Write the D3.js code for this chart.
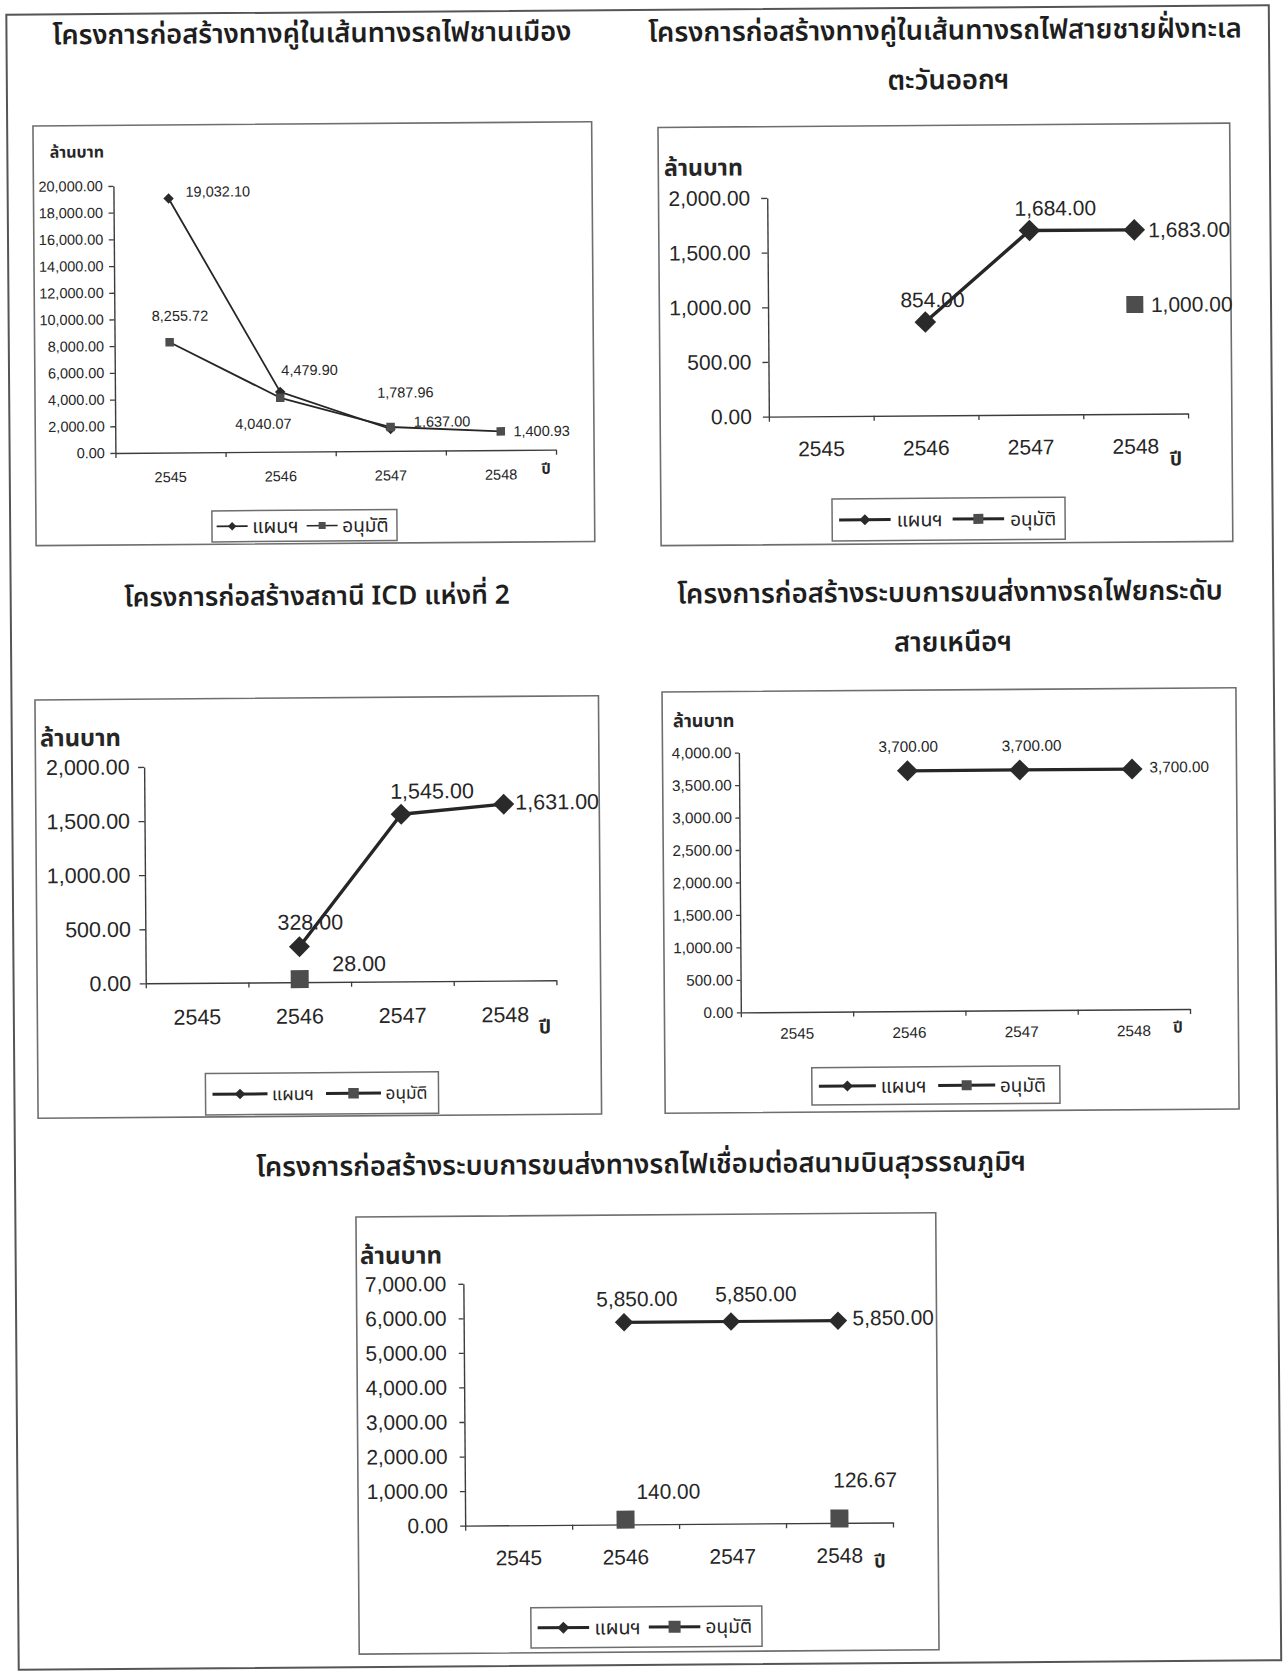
<!DOCTYPE html>
<html>
<head>
<meta charset="utf-8">
<script src="https://cdn.jsdelivr.net/npm/d3@7"></script>
<style>
  html, body { margin: 0; padding: 0; background: #fff; }
  svg { display: block; }
</style>
</head>
<body>
<svg id="page" width="1284" height="1672"></svg>
<script>
// ---- data -------------------------------------------------------------
const years = ["2545", "2546", "2547", "2548"];
const seriesNames = ["แผนฯ", "อนุมัติ"];
const unitLabel = "ล้านบาท";
const yearLabel = "ปี";

const titles = [
  ["โครงการก่อสร้างทางคู่ในเส้นทางรถไฟชานเมือง"],
  ["โครงการก่อสร้างทางคู่ในเส้นทางรถไฟสายชายฝั่งทะเล", "ตะวันออกฯ"],
  ["โครงการก่อสร้างสถานี ICD แห่งที่ 2"],
  ["โครงการก่อสร้างระบบการขนส่งทางรถไฟยกระดับ", "สายเหนือฯ"],
  ["โครงการก่อสร้างระบบการขนส่งทางรถไฟเชื่อมต่อสนามบินสุวรรณภูมิฯ"]
];

// million baht by year, null where no figure exists
const suburbanPlan      = [19032.10, 4479.90, 1637.00, null];
const suburbanApproved  = [8255.72, 4040.07, 1787.96, 1400.93];
const eastCoastPlan     = [null, 854.00, 1684.00, 1683.00];
const eastCoastApproved = [null, null, null, 1000.00];
const icdPlan           = [null, 328.00, 1545.00, 1631.00];
const icdApproved       = [null, 28.00, null, null];
const northPlan         = [null, 3700.00, 3700.00, 3700.00];
const northApproved     = [null, null, null, null];
const airportPlan       = [null, 5850.00, 5850.00, 5850.00];
const airportApproved   = [null, 140.00, null, 126.67];

const yMaxes = [20000, 2000, 2000, 4000, 7000];
const ySteps = [2000, 500, 500, 500, 1000];

const charts = [
  { title: titles[0], plan: suburbanPlan,  approved: suburbanApproved,  yMax: yMaxes[0], step: ySteps[0] },
  { title: titles[1], plan: eastCoastPlan, approved: eastCoastApproved, yMax: yMaxes[1], step: ySteps[1] },
  { title: titles[2], plan: icdPlan,       approved: icdApproved,       yMax: yMaxes[2], step: ySteps[2] },
  { title: titles[3], plan: northPlan,     approved: northApproved,     yMax: yMaxes[3], step: ySteps[3] },
  { title: titles[4], plan: airportPlan,   approved: airportApproved,   yMax: yMaxes[4], step: ySteps[4] }
];

// ---- layout -----------------------------------------------------------
// box: page position/size; plot: axis extents inside the box;
// labels: [dx, dy, anchor] of each value label relative to its marker
const layouts = [
  { box: [38.3, 121.4, 558.7, 419.7], plot: { l: 80, r: 520.6, t: 60.6, b: 327.6 },
    title: { x: [318], y: [31.5], w: 519 },
    unit: { x: 16.5, y: 27, w: 54.3 }, font: 14.5, tickSize: 5, tickPad: 5.5, xLabelDy: 24.5,
    year: { dx: -10, dy: 20, size: 14.5 },
    line: 1.8, diamond: 5.2, square: 8.5,
    legend: { x: 176, y: 386.3, w: 185, h: 31, L: 31, textW: 46.5, lw: 1.6, d: 4.2, s: 7, pad: 4.7, gap: 4.5, itemGap: 8 },
    labels: [
      [[17, -6.5, "start"], [29.5, -21.6, "middle"], [51.5, -7, "middle"], null],
      [[10.5, -26.4, "middle"], [-17, 26, "middle"], [15, -34.4, "middle"], [12.6, 0, "start"]]
    ] },
  { box: [663.3, 127.6, 571.7, 418.2], plot: { l: 108.7, r: 527.9, t: 71.3, b: 290 },
    title: { x: [951, 954], y: [33.3, 83], w: 594 },
    unit: { x: 5.7, y: 41, w: 79 }, font: 21, tickSize: 6, tickPad: 11, xLabelDy: 32.4,
    year: { dx: -12.4, dy: 46.4, size: 19 },
    line: 3.4, diamond: 10.8, square: 17,
    legend: { x: 171.2, y: 372.8, w: 233, h: 42, L: 51.5, textW: 46, lw: 3, d: 5.5, s: 10, pad: 7, gap: 6, itemGap: 10 },
    labels: [
      [null, [7.3, -22.4, "middle"], [26, -22.4, "middle"], [14, 0, "start"]],
      [null, null, null, [16, 0, "start"]]
    ] },
  { box: [36, 695.4, 563.5, 418.3], plot: { l: 108.65, r: 519.3, t: 67.8, b: 284.2 },
    title: { x: [318.8], y: [594.6], w: 386 },
    unit: { x: 4.7, y: 39.5, w: 81 }, font: 21.5, tickSize: 6, tickPad: 8.5, xLabelDy: 34,
    year: { dx: -11.8, dy: 47.6, size: 19 },
    line: 3.4, diamond: 10.5, square: 18,
    legend: { x: 167.6, y: 374.9, w: 233, h: 41.4, L: 55, textW: 42, lw: 3, d: 5.3, s: 10.5, pad: 7, gap: 4.5, itemGap: 12 },
    labels: [
      [null, [11, -24, "middle"], [31, -22.6, "middle"], [11.6, -1.5, "start"]],
      [null, [59.5, -14.7, "middle"], null, null]
    ] },
  { box: [663.1, 692.2, 573.9, 421.2], plot: { l: 76.4, r: 525.6, t: 61.1, b: 320.9 },
    title: { x: [951.8, 954.4], y: [595.3, 645], w: 546 },
    unit: { x: 10.8, y: 29.8, w: 61.5 }, font: 15.3, tickSize: 4, tickPad: 3.5, xLabelDy: 21.4,
    year: { dx: -12.1, dy: 19, size: 15 },
    line: 3.3, diamond: 10.5, square: 17,
    legend: { x: 146.9, y: 376.7, w: 248, h: 37.4, L: 57, textW: 46, lw: 3, d: 5.5, s: 10, pad: 7, gap: 4.8, itemGap: 11.5 },
    labels: [
      [null, [1, -24.4, "middle"], [12, -24.4, "middle"], [17.5, -2, "start"]],
      [null, null, null, null]
    ] },
  { box: [353.1, 1214.9, 579.8, 437.1], plot: { l: 106.9, r: 534.7, t: 67.5, b: 309.4 },
    title: { x: [638.5], y: [1165], w: 770 },
    unit: { x: 3.7, y: 39.6, w: 82 }, font: 20.9, tickSize: 5, tickPad: 12, xLabelDy: 32.6,
    year: { dx: -13.3, dy: 39.5, size: 18 },
    line: 3.2, diamond: 9.2, square: 18,
    legend: { x: 171.9, y: 392, w: 231, h: 40.3, L: 51.5, textW: 46.5, lw: 3, d: 6, s: 12, pad: 6.7, gap: 5.2, itemGap: 8 },
    labels: [
      [null, [13, -23.5, "middle"], [25, -27.5, "middle"], [14.6, -2.8, "start"]],
      [null, [43, -28, "middle"], null, [26, -38.6, "middle"]]
    ] }
];

// ---- drawing ----------------------------------------------------------
const THAI = "'Noto Sans Thai','Noto Sans Thai UI','Loma','Garuda','Norasi','Tlwg Typo','Noto Sans',sans-serif";
const NUM = "'Liberation Sans',Arial," + THAI;
const INK = "#262626";
const fmt = d3.format(",.2f");

const svg = d3.select("#page");
const page = svg.append("g").attr("transform", "rotate(-0.43 642 836)");

page.append("rect")
  .attr("x", 12.5).attr("y", 10).attr("width", 1262.5).attr("height", 1655)
  .attr("fill", "none").attr("stroke", "#555").attr("stroke-width", 2);

function fitWidth(sel, width) {
  sel.attr("font-size", 20);
  const w = sel.node().getComputedTextLength();
  sel.attr("font-size", 20 * width / w);
  return 20 * width / w;
}

function diamondPath(r) {
  return `M0,${-r}L${r},0L0,${r}L${-r},0Z`;
}

function drawMarker(g, kind, cx, cy, size) {
  if (kind === 0) {
    g.append("path").attr("d", diamondPath(size))
      .attr("transform", `translate(${cx},${cy})`)
      .attr("fill", "#2a2a2a");
  } else {
    g.append("rect")
      .attr("x", cx - size / 2).attr("y", cy - size / 2)
      .attr("width", size).attr("height", size)
      .attr("fill", "#4d4d4d");
  }
}

charts.forEach((c, i) => {
  const L = layouts[i];

  // title (one or two centred lines)
  let titleSize;
  c.title.forEach((line, k) => {
    const t = page.append("text")
      .attr("x", L.title.x[k]).attr("y", L.title.y[k])
      .attr("text-anchor", "middle").attr("dominant-baseline", "central")
      .attr("font-family", THAI).attr("font-weight", 600)
      .attr("fill", "#1e1e1e").text(line);
    if (k === 0) titleSize = fitWidth(t, L.title.w);
    else t.attr("font-size", titleSize);
  });

  const g = page.append("g").attr("transform", `translate(${L.box[0]},${L.box[1]})`);
  g.append("rect").attr("width", L.box[2]).attr("height", L.box[3])
    .attr("fill", "#fff").attr("stroke", "#6e6e6e").attr("stroke-width", 1.6);

  const y = d3.scaleLinear().domain([0, c.yMax]).range([L.plot.b, L.plot.t]);
  const x = d3.scaleBand().domain(years).range([L.plot.l, L.plot.r]);
  const xEdge = d3.scaleLinear().domain([0, years.length]).range([L.plot.l, L.plot.r]);

  // y axis
  const yAxis = g.append("g").attr("transform", `translate(${L.plot.l},0)`)
    .call(d3.axisLeft(y)
      .tickValues(d3.range(0, c.yMax + c.step / 2, c.step))
      .tickFormat(fmt).tickSize(L.tickSize).tickPadding(L.tickPad).tickSizeOuter(0));
  yAxis.selectAll("text").attr("font-family", NUM).attr("font-size", L.font).attr("fill", INK);

  // x axis: tick marks between categories, labels centred on them
  const xTicks = g.append("g").attr("transform", `translate(0,${L.plot.b})`)
    .call(d3.axisBottom(xEdge).tickValues(d3.range(0, years.length + 1))
      .tickFormat("").tickSize(5).tickSizeOuter(0));
  const xLabels = g.append("g").attr("transform", `translate(0,${L.plot.b})`)
    .call(d3.axisBottom(x).tickSize(0));
  xLabels.select(".domain").remove();
  xLabels.selectAll("text").attr("y", L.xLabelDy).attr("dy", "0.35em")
    .attr("font-family", NUM).attr("font-size", L.font).attr("fill", INK);

  [yAxis, xTicks].forEach(a => {
    a.selectAll(".domain").attr("stroke", "#3c3c3c").attr("stroke-width", 1.4);
    a.selectAll(".tick line").attr("stroke", "#3c3c3c").attr("stroke-width", 1.3);
  });

  // unit caption
  const u = g.append("text").attr("x", L.unit.x).attr("y", L.unit.y)
    .attr("dominant-baseline", "central").attr("font-family", THAI)
    .attr("font-weight", 700).attr("fill", INK).text(unitLabel);
  fitWidth(u, L.unit.w);

  // year caption at the end of the category axis
  g.append("text").attr("x", L.plot.r + L.year.dx).attr("y", L.plot.b + L.year.dy)
    .attr("text-anchor", "middle").attr("dominant-baseline", "central")
    .attr("font-family", THAI).attr("font-weight", 700).attr("font-size", L.year.size)
    .attr("fill", INK).text(yearLabel);

  // series
  const series = [c.plan, c.approved];
  const line = d3.line()
    .defined(d => d.v != null)
    .x(d => x(d.year) + x.bandwidth() / 2)
    .y(d => y(d.v));

  series.forEach((vals, s) => {
    const pts = vals.map((v, j) => ({ year: years[j], v }));
    g.append("path").datum(pts).attr("d", line)
      .attr("fill", "none").attr("stroke", "#262626").attr("stroke-width", L.line)
      .attr("stroke-linejoin", "round");
    pts.forEach((p, j) => {
      if (p.v == null) return;
      const cx = x(p.year) + x.bandwidth() / 2, cy = y(p.v);
      drawMarker(g, s, cx, cy, s === 0 ? L.diamond : L.square);
      const lp = L.labels[s][j];
      if (lp) {
        g.append("text").attr("x", cx + lp[0]).attr("y", cy + lp[1])
          .attr("text-anchor", lp[2]).attr("dominant-baseline", "central")
          .attr("font-family", NUM).attr("font-size", L.font).attr("fill", INK)
          .text(fmt(p.v));
      }
    });
  });

  // legend
  const lg = L.legend;
  const leg = g.append("g").attr("transform", `translate(${lg.x},${lg.y})`);
  leg.append("rect").attr("width", lg.w).attr("height", lg.h)
    .attr("fill", "#fff").attr("stroke", "#6e6e6e").attr("stroke-width", 1.5);
  let cur = lg.pad;
  const my = lg.h / 2;
  seriesNames.forEach((name, s) => {
    leg.append("line").attr("x1", cur).attr("x2", cur + lg.L).attr("y1", my).attr("y2", my)
      .attr("stroke", "#262626").attr("stroke-width", lg.lw);
    drawMarker(leg, s, cur + lg.L / 2, my, s === 0 ? lg.d : lg.s);
    cur += lg.L + lg.gap;
    const t = leg.append("text").attr("x", cur).attr("y", my + 1)
      .attr("dominant-baseline", "central").attr("font-family", THAI)
      .attr("fill", INK).text(name);
    fitWidth(t, lg.textW);
    cur += lg.textW + lg.itemGap;
  });
});
</script>
</body>
</html>
